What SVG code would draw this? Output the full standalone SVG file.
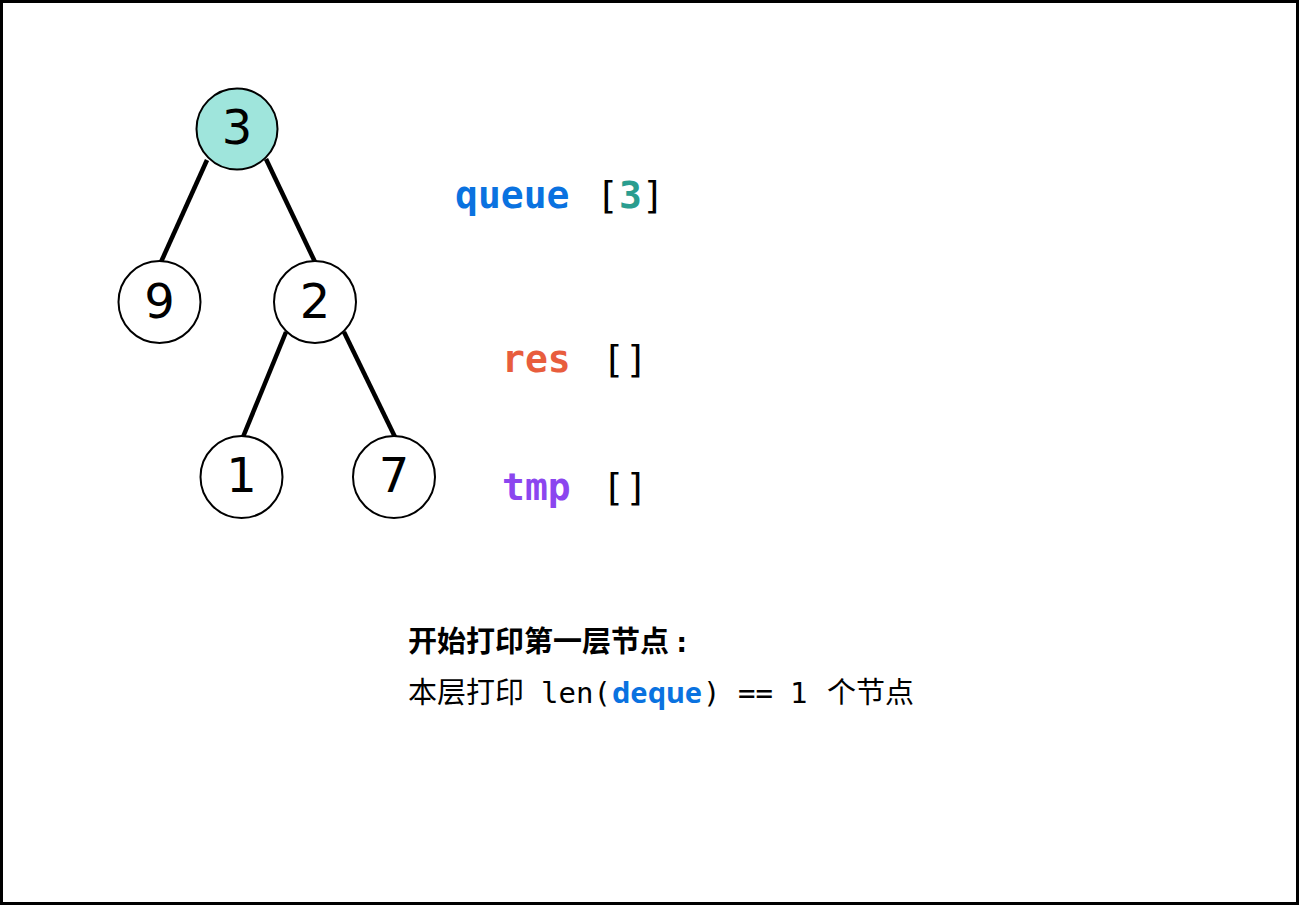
<svg xmlns="http://www.w3.org/2000/svg" width="1299" height="905" viewBox="0 0 1299 905">
<style>
.edge{stroke:#000;stroke-width:4.5;stroke-linecap:butt}
.nd{fill:#fff;stroke:#000;stroke-width:2}
.root{fill:#9fe5dc}
.num{font-family:"DejaVu Sans",sans-serif;font-size:48px;fill:#000;text-anchor:middle}
.mono{font-family:"DejaVu Sans Mono","Liberation Mono",monospace}
.var{font-size:38px;font-weight:bold}
.br{font-size:38px;fill:#000}
.cjk{font-family:"Noto Sans CJK SC",sans-serif;font-size:29px;fill:#000}
.m29{font-family:"DejaVu Sans Mono","Liberation Mono","Noto Sans CJK SC",monospace;font-size:29px;fill:#000}
</style>
<rect x="1.5" y="1.5" width="1296" height="902" fill="#fff" stroke="#000" stroke-width="3"/>
<g id="connectors">
<line class="edge" x1="207" y1="160" x2="161" y2="262"/>
<line class="edge" x1="266" y1="159" x2="315" y2="262"/>
<line class="edge" x1="286" y1="332" x2="243" y2="437"/>
<line class="edge" x1="344" y1="332" x2="395" y2="437"/>
</g>
<g id="node-3"><circle class="nd root" cx="237" cy="129" r="40.5"/><text class="num" x="237" y="144">3</text></g>
<g id="node-9"><circle class="nd" cx="159.5" cy="302" r="41"/><text class="num" x="159.5" y="318">9</text></g>
<g id="node-2"><circle class="nd" cx="315" cy="302" r="41"/><text class="num" x="315" y="318">2</text></g>
<g id="node-1"><circle class="nd" cx="241.5" cy="477" r="41"/><text class="num" x="241.5" y="492">1</text></g>
<g id="node-7"><circle class="nd" cx="394" cy="477" r="41"/><text class="num" x="394" y="492">7</text></g>
<g id="queue">
<text class="mono var" x="455" y="208" fill="#0a72e0">queue</text>
<text class="mono br" x="596" y="208">[<tspan fill="#2a9d8f" font-weight="bold">3</tspan>]</text>
</g>
<g id="res">
<text class="mono var" x="502" y="372" fill="#e85d3d">res</text>
<text class="mono br" x="602" y="372">[]</text>
</g>
<g id="tmp">
<text class="mono var" x="502" y="500" fill="#8b46ef">tmp</text>
<text class="mono br" x="602" y="500">[]</text>
</g>
<g id="caption">
<text class="cjk" x="408" y="652" font-weight="bold">开始打印第一层节点<tspan x="673" font-family="DejaVu Sans Mono,monospace">:</tspan></text>
<text class="cjk" x="408" y="703">本层打印</text>
<text class="m29" x="541" y="703">len(</text>
<text x="612" y="703" font-family="Noto Sans,sans-serif" font-size="29" font-weight="bold" fill="#0a72e0">deque</text>
<text class="m29" x="703" y="703">)</text>
<text class="m29" x="738" y="703">==</text>
<text class="m29" x="790" y="703">1</text>
<text class="cjk" x="827" y="703">个节点</text>
</g>
</svg>
